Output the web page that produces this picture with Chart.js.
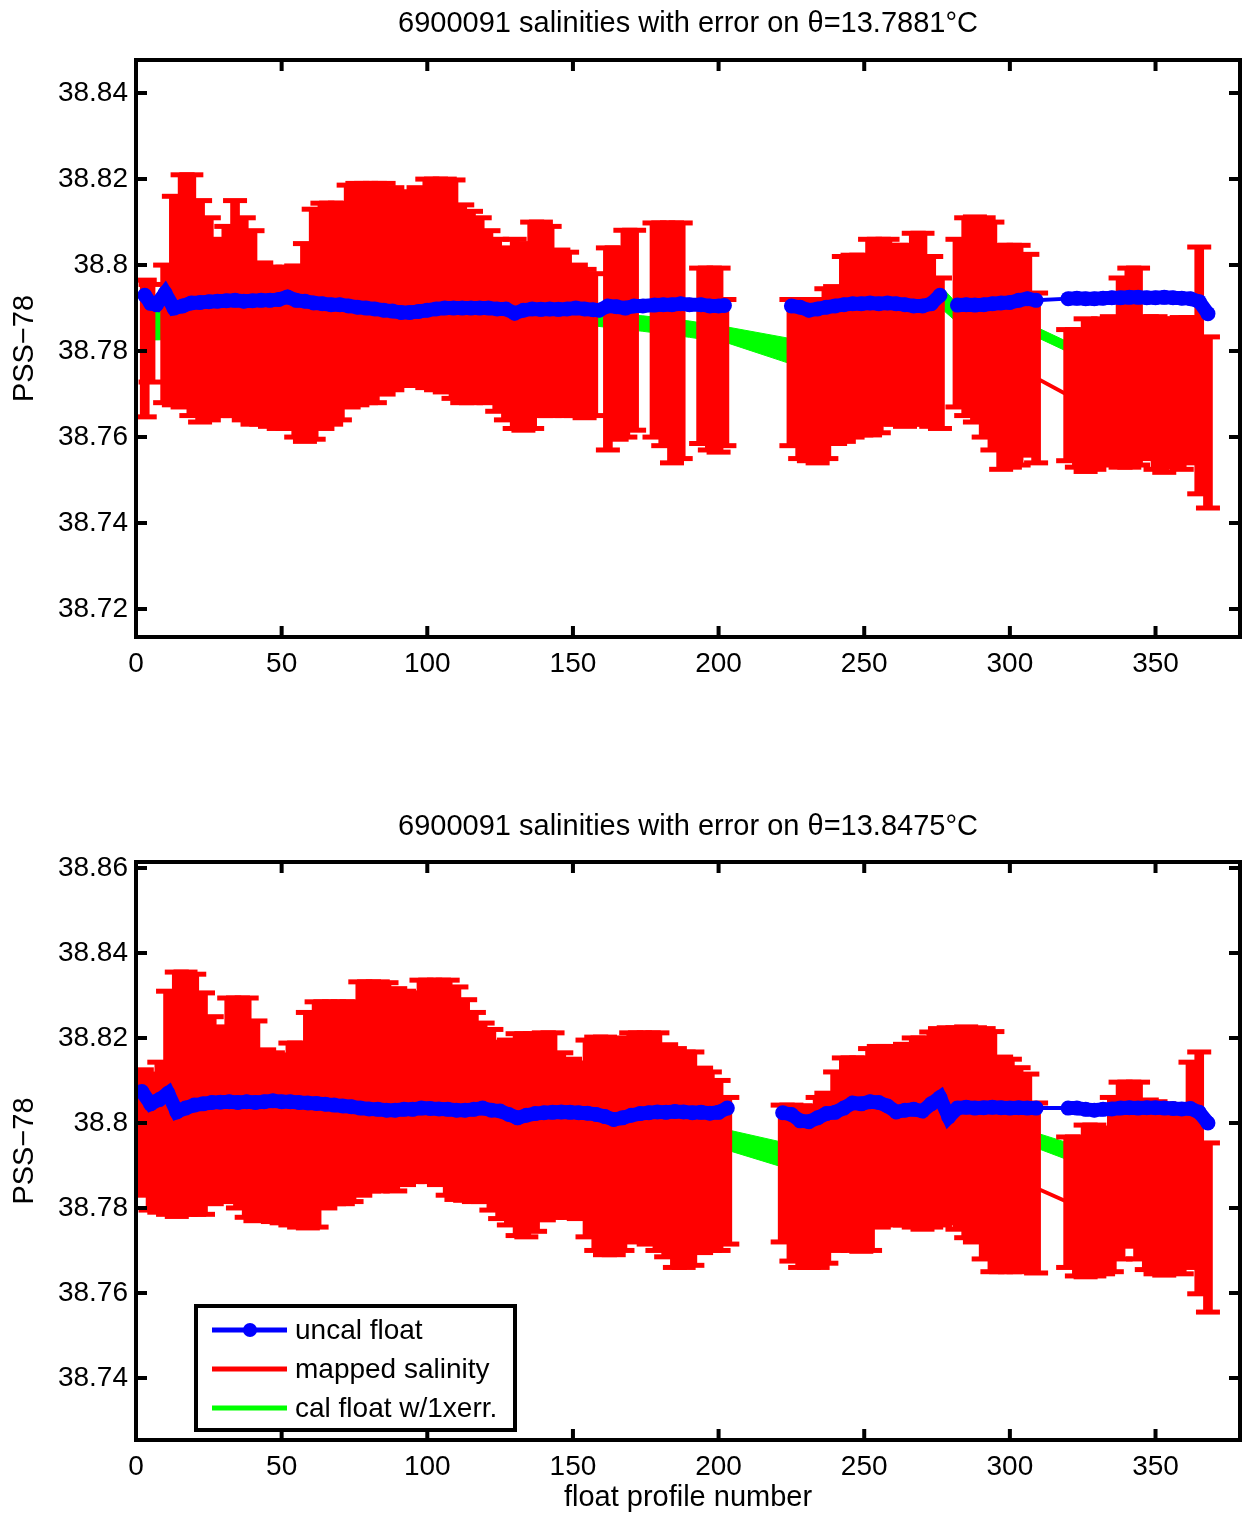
<!DOCTYPE html>
<html>
<head>
<meta charset="utf-8">
<script src="https://cdn.jsdelivr.net/npm/chart.js@4.4.1/dist/chart.umd.min.js"></script>
<style>
  html, body { margin: 0; padding: 0; background: #fff; }
  #top { position: absolute; left: 0; top: 0; }
  #bottom { position: absolute; left: 0; top: 700px; }
</style>
</head>
<body>
<canvas id="top" width="1244" height="700"></canvas>
<canvas id="bottom" width="1244" height="817"></canvas>
<script>
// axis ticks
const xTicks = [0, 50, 100, 150, 200, 250, 300, 350];
const p1YTicks = [38.72, 38.74, 38.76, 38.78, 38.8, 38.82, 38.84];
const p2YTicks = [38.74, 38.76, 38.78, 38.8, 38.82, 38.84, 38.86];

const legendLabels = ['uncal float', 'mapped salinity', 'cal float w/1xerr.'];

// panel 1 (theta = 13.7881)
const p1Prof = [3,5,7,
  10,13,16,19,22,25,28,31,34,37,40,43,46,49,52,55,58,61,64,67,70,73,76,79,82,85,88,91,94,97,
  100,103,106,109,112,115,118,121,124,127,130,133,136,139,142,145,148,151,154,157,
  159,162,165,168,171,174,178,181,184,187,190,194,197,200,202,213,
  225,228,231,234,237,240,243,246,249,252,255,258,261,264,267,270,273,276,280,
  282,285,288,291,294,297,300,303,306,309,
  320,323,326,329,332,335,338,341,344,347,350,353,356,359,362,365,368];
const p1Uncal = [38.7930,38.7911,38.7908,
  38.7935,38.7900,38.7905,38.7912,38.7913,38.7915,38.7916,38.7917,38.7918,38.7916,
  38.7917,38.7918,38.7918,38.7920,38.7926,38.7918,38.7916,38.7912,38.7910,38.7908,
  38.7908,38.7905,38.7902,38.7900,38.7898,38.7895,38.7893,38.7890,38.7890,38.7892,
  38.7895,38.7898,38.7900,38.7900,38.7900,38.7900,38.7900,38.7900,38.7898,38.7898,
  38.7888,38.7895,38.7898,38.7897,38.7898,38.7897,38.7898,38.7900,38.7898,38.7896,
  38.7895,38.7905,38.7903,38.7900,38.7905,38.7905,38.7907,38.7908,38.7908,38.7910,
  38.7908,38.7908,38.7905,38.7905,38.7906,null,
  38.7905,38.7902,38.7895,38.7898,38.7902,38.7905,38.7908,38.7910,38.7910,38.7912,
  38.7910,38.7912,38.7910,38.7908,38.7905,38.7905,38.7910,38.7930,null,
  38.7907,38.7908,38.7907,38.7908,38.7910,38.7912,38.7913,38.7918,38.7922,38.7918,
  38.7922,38.7923,38.7922,38.7922,38.7923,38.7924,38.7924,38.7925,38.7925,38.7924,
  38.7924,38.7925,38.7924,38.7923,38.7922,38.7915,38.7887];
const p1MapHi = [38.7965,38.7955,null,
  38.8000,38.8160,38.8210,38.8210,38.8150,38.8110,38.8060,38.8090,38.8150,38.8110,
  38.8080,38.8005,38.7995,38.7995,38.7995,38.7998,38.8050,38.8130,38.8144,38.8144,
  38.8144,38.8186,38.8190,38.8190,38.8190,38.8190,38.8180,38.8170,38.8170,38.8180,
  38.8200,38.8200,38.8200,38.8198,38.8140,38.8125,38.8110,38.8080,38.8060,38.8040,
  38.8060,38.8050,38.8100,38.8100,38.8090,38.8035,38.8030,38.8000,38.7990,38.7980,
  null,38.8040,38.8040,38.8081,38.8081,null,38.8098,38.8098,38.8098,38.8098,
  null,38.7993,38.7993,38.7993,38.7920,null,
  38.7920,38.7920,38.7920,38.7920,38.7945,38.7950,38.8020,38.8023,38.8023,38.8060,
  38.8060,38.8060,38.8046,38.8046,38.8074,38.8074,38.8020,38.7970,null,
  38.8060,38.8110,38.8112,38.8110,38.8100,38.8046,38.8046,38.8046,38.8025,38.7935,
  38.7850,38.7850,38.7875,38.7870,38.7875,38.7880,38.7970,38.7993,38.7993,38.7880,
  38.7880,38.7875,38.7875,38.7878,38.7878,38.8042,38.7833];
const p1MapLo = [38.7647,38.7728,null,
  38.7680,38.7675,38.7670,38.7650,38.7635,38.7640,38.7650,38.7650,38.7650,38.7640,
  38.7630,38.7630,38.7625,38.7620,38.7620,38.7600,38.7590,38.7595,38.7620,38.7630,
  38.7640,38.7670,38.7675,38.7680,38.7680,38.7700,38.7710,38.7720,38.7725,38.7720,
  38.7715,38.7710,38.7705,38.7690,38.7680,38.7680,38.7690,38.7680,38.7660,38.7640,
  38.7620,38.7616,38.7620,38.7650,38.7650,38.7660,38.7650,38.7650,38.7645,38.7650,
  null,38.7570,38.7595,38.7600,38.7616,null,38.7600,38.7580,38.7540,38.7550,
  null,38.7585,38.7570,38.7565,38.7580,null,
  38.7580,38.7550,38.7545,38.7540,38.7550,38.7585,38.7590,38.7600,38.7605,38.7605,
  38.7610,38.7630,38.7630,38.7625,38.7630,38.7630,38.7625,38.7620,null,
  38.7670,38.7650,38.7635,38.7600,38.7570,38.7525,38.7530,38.7535,38.7558,38.7540,
  38.7545,38.7530,38.7520,38.7525,38.7535,38.7540,38.7530,38.7530,38.7535,38.7550,
  38.7525,38.7518,38.7530,38.7525,38.7540,38.7468,38.7435];
const p1CalProf = [3, 7, 158, 174, 190, 203, 224, 276, 283, 309, 320, 368];
const p1CalHi = [38.7895,38.7895,38.7889,38.7882,38.7870,38.7856,38.7830,38.7953,38.7902,38.7856,38.7821,38.7800];
const p1CalLo = [38.7826,38.7826,38.7858,38.7846,38.7832,38.7819,38.7772,38.7902,38.7860,38.7833,38.7798,38.7775];

// panel 2 (theta = 13.8475)
const p2Prof = [2,5,8,11,14,17,20,23,26,29,32,35,38,41,44,47,50,53,56,59,
  62,65,68,71,74,77,80,83,86,89,92,95,98,101,104,107,110,113,116,119,
  122,125,128,131,134,137,140,143,146,149,152,155,158,161,164,167,170,173,176,179,
  182,185,188,191,194,197,200,203,213,
  222,225,228,231,234,237,240,243,246,249,252,255,258,261,264,267,270,273,276,279,
  282,285,288,291,294,297,300,303,306,309,
  320,323,326,329,332,335,338,341,344,347,350,353,356,359,362,365,368];
const p2Uncal = [38.8074,38.8045,38.8055,38.8070,38.8026,38.8035,38.8042,38.8045,38.8048,38.8049,
  38.8050,38.8048,38.8050,38.8048,38.8050,38.8052,38.8050,38.8050,38.8048,38.8047,
  38.8046,38.8044,38.8042,38.8040,38.8038,38.8035,38.8033,38.8032,38.8030,38.8030,
  38.8032,38.8032,38.8035,38.8034,38.8033,38.8032,38.8030,38.8030,38.8032,38.8035,
  38.8030,38.8028,38.8020,38.8012,38.8018,38.8022,38.8024,38.8025,38.8026,38.8025,
  38.8024,38.8023,38.8020,38.8015,38.8008,38.8012,38.8018,38.8022,38.8024,38.8026,
  38.8025,38.8027,38.8026,38.8024,38.8025,38.8023,38.8025,38.8035,null,
  38.8024,38.8020,38.8005,38.8003,38.8012,38.8022,38.8025,38.8035,38.8047,38.8045,
  38.8050,38.8048,38.8040,38.8026,38.8030,38.8032,38.8028,38.8045,38.8060,38.8014,
  38.8035,38.8037,38.8035,38.8036,38.8037,38.8036,38.8035,38.8036,38.8035,38.8035,
  38.8035,38.8035,38.8032,38.8030,38.8032,38.8033,38.8035,38.8036,38.8035,38.8036,
  38.8036,38.8035,38.8034,38.8033,38.8034,38.8025,38.8000];
const p2MapHi = [38.8125,38.8115,38.8143,38.8310,38.8355,38.8355,38.8350,38.8306,38.8250,38.8226,
  38.8294,38.8294,38.8294,38.8240,38.8172,38.8165,38.8160,38.8188,38.8188,38.8260,
  38.8285,38.8285,38.8285,38.8285,38.8285,38.8332,38.8332,38.8332,38.8330,38.8316,
  38.8310,38.8306,38.8336,38.8336,38.8336,38.8336,38.8320,38.8290,38.8260,38.8235,
  38.8220,38.8190,38.8195,38.8210,38.8210,38.8210,38.8212,38.8212,38.8165,38.8150,
  38.8141,38.8195,38.8202,38.8202,38.8195,38.8200,38.8212,38.8212,38.8212,38.8212,
  38.8184,38.8175,38.8167,38.8167,38.8129,38.8120,38.8100,38.8060,null,
  38.8042,38.8042,38.8040,38.8040,38.8060,38.8070,38.8120,38.8153,38.8153,38.8153,
  38.8175,38.8180,38.8180,38.8175,38.8185,38.8200,38.8200,38.8214,38.8222,38.8224,
  38.8224,38.8226,38.8224,38.8222,38.8215,38.8155,38.8150,38.8130,38.8115,38.8047,
  38.7967,38.7967,38.7995,38.7995,38.7988,38.8060,38.8096,38.8096,38.8096,38.8054,
  38.8050,38.8045,38.8030,38.8030,38.8143,38.8167,38.7953];
const p2MapLo = [38.7830,38.7795,38.7790,38.7785,38.7780,38.7785,38.7785,38.7785,38.7810,38.7820,
  38.7815,38.7800,38.7778,38.7770,38.7772,38.7768,38.7765,38.7760,38.7755,38.7753,
  38.7755,38.7800,38.7810,38.7810,38.7815,38.7830,38.7840,38.7840,38.7842,38.7840,
  38.7855,38.7862,38.7866,38.7862,38.7855,38.7830,38.7820,38.7818,38.7815,38.7815,
  38.7795,38.7775,38.7760,38.7735,38.7732,38.7745,38.7772,38.7778,38.7778,38.7778,
  38.7775,38.7732,38.7700,38.7690,38.7690,38.7700,38.7720,38.7725,38.7715,38.7700,
  38.7685,38.7660,38.7660,38.7665,38.7695,38.7700,38.7700,38.7715,null,
  38.7720,38.7675,38.7660,38.7660,38.7660,38.7670,38.7700,38.7705,38.7700,38.7698,
  38.7700,38.7755,38.7765,38.7760,38.7760,38.7755,38.7750,38.7755,38.7760,38.7765,
  38.7750,38.7730,38.7720,38.7680,38.7650,38.7650,38.7650,38.7650,38.7655,38.7647,
  38.7660,38.7640,38.7638,38.7640,38.7645,38.7650,38.7680,38.7710,38.7680,38.7655,
  38.7645,38.7642,38.7650,38.7645,38.7660,38.7598,38.7555];
const p2CalProf = [2, 203, 223, 278, 308, 320, 368];
const p2CalHi = [38.8035,38.7984,38.7953,38.8035,38.7979,38.7953,38.7950];
const p2CalLo = [38.7985,38.7936,38.7894,38.7985,38.7944,38.7913,38.7910];

const BLUE = '#0000ff', RED = '#ff0000', GREEN = '#00ff00';
const FONT = '"Liberation Sans", Arial, Helvetica, sans-serif';
Chart.defaults.font.family = FONT;
Chart.defaults.color = '#000';

function buildDatasets(prof, uncal, hi, lo, calProf, calHi, calLo) {
  const bars = [], caps = [];
  prof.forEach((p, i) => {
    if (hi[i] == null) return;
    bars.push({ x: p, y: [lo[i], hi[i]] });
    caps.push({ x: p, y: hi[i] }, { x: p, y: lo[i] });
  });
  const mid = prof.map((p, i) => ({ x: p, y: hi[i] == null ? null : (hi[i] + lo[i]) / 2 }));
  return [
    { type: 'line', label: 'cal hi', data: calProf.map((p, i) => ({ x: p, y: calHi[i] })),
      borderColor: GREEN, borderWidth: 1, pointRadius: 0, fill: false, order: 10 },
    { type: 'line', label: legendLabels[2], data: calProf.map((p, i) => ({ x: p, y: calLo[i] })),
      borderColor: GREEN, borderWidth: 1, pointRadius: 0, fill: '-1', backgroundColor: GREEN, order: 10 },
    { type: 'line', label: legendLabels[1], data: mid, borderColor: RED, borderWidth: 4,
      pointRadius: 0, spanGaps: false, order: 8 },
    { type: 'bar', label: 'error', data: bars, backgroundColor: RED, borderWidth: 0,
      barThickness: 9, grouped: false, order: 6 },
    { type: 'line', label: 'caps', data: caps, showLine: false, pointStyle: 'line',
      pointRadius: 12, pointBorderWidth: 5, pointBorderColor: RED, order: 4 },
    { type: 'line', label: legendLabels[0], data: prof.map((p, i) => ({ x: p, y: uncal[i] })),
      borderColor: BLUE, borderWidth: 4, pointRadius: 7.5, pointBackgroundColor: BLUE,
      pointBorderWidth: 0, spanGaps: false, order: 0,
      // dense runs of profiles read as a solid band, long jumps as a thin line
      segment: { borderWidth: c => (c.p1.parsed.x - c.p0.parsed.x > 6 ? 4 : 14) } }
  ];
}

// box with inward ticks, matlab style
const framePlugin = {
  id: 'frame',
  afterDatasetsDraw(chart) {
    const { ctx, chartArea: a, scales: { x, y } } = chart;
    ctx.save();
    ctx.strokeStyle = '#000';
    ctx.lineWidth = 4;
    ctx.beginPath();
    x.ticks.forEach(t => {
      const px = x.getPixelForValue(t.value);
      ctx.moveTo(px, a.bottom); ctx.lineTo(px, a.bottom - 11);
      ctx.moveTo(px, a.top); ctx.lineTo(px, a.top + 11);
    });
    y.ticks.forEach(t => {
      const py = y.getPixelForValue(t.value);
      ctx.moveTo(a.left, py); ctx.lineTo(a.left + 11, py);
      ctx.moveTo(a.right, py); ctx.lineTo(a.right - 11, py);
    });
    ctx.stroke();
    ctx.strokeRect(a.left, a.top, a.right - a.left, a.bottom - a.top);
    ctx.restore();
  }
};

const legendPlugin = {
  id: 'boxLegend',
  afterDraw(chart, args, opts) {
    if (!opts.show) return;
    const { ctx, chartArea: a } = chart;
    const x0 = a.left + 60, y0 = a.bottom - 134, w = 319, h = 124;
    const colors = [BLUE, RED, GREEN];
    ctx.save();
    ctx.fillStyle = '#fff';
    ctx.fillRect(x0, y0, w, h);
    ctx.lineWidth = 4;
    ctx.strokeStyle = '#000';
    ctx.strokeRect(x0, y0, w, h);
    ctx.font = '28px ' + FONT;
    ctx.textBaseline = 'middle';
    legendLabels.forEach((label, i) => {
      const y = y0 + 24 + i * 39;
      ctx.strokeStyle = colors[i];
      ctx.lineWidth = 5;
      ctx.beginPath();
      ctx.moveTo(x0 + 16, y);
      ctx.lineTo(x0 + 91, y);
      ctx.stroke();
      if (i === 0) {
        ctx.fillStyle = colors[i];
        ctx.beginPath();
        ctx.arc(x0 + 54, y, 7, 0, Math.PI * 2);
        ctx.fill();
      }
      ctx.fillStyle = '#000';
      ctx.fillText(label, x0 + 99, y + 1);
    });
    ctx.restore();
  }
};

function makePanel(id, cfg) {
  return new Chart(document.getElementById(id), {
    type: 'bar',
    data: { datasets: buildDatasets(cfg.prof, cfg.uncal, cfg.hi, cfg.lo, cfg.calProf, cfg.calHi, cfg.calLo) },
    options: {
      responsive: false,
      animation: false,
      devicePixelRatio: 1,
      layout: { autoPadding: false, padding: { top: cfg.padTop, right: 4, left: 0, bottom: 0 } },
      plugins: {
        legend: { display: false },
        tooltip: { enabled: false },
        title: { display: true, fullSize: false, text: cfg.title, color: '#000',
                 font: { size: 29, weight: 'normal' }, padding: cfg.titlePad },
        boxLegend: { show: cfg.legend }
      },
      scales: {
        x: {
          type: 'linear', min: 0, max: 379, offset: false,
          grid: { display: false, drawTicks: false, offset: false },
          border: { display: false },
          ticks: { font: { size: 28 }, color: '#000', padding: 10, maxRotation: 0, autoSkip: false,
                   callback: v => String(v) },
          afterBuildTicks: s => { s.ticks = xTicks.map(v => ({ value: v })); },
          afterFit: s => { s.height = cfg.xHeight; },
          title: { display: cfg.xTitle, text: 'float profile number', color: '#000',
                   font: { size: 29 }, padding: { top: 0, bottom: 2 } }
        },
        y: {
          type: 'linear', min: cfg.yMin, max: cfg.yMax,
          grid: { display: false, drawTicks: false },
          border: { display: false },
          ticks: { font: { size: 28 }, color: '#000', padding: 8,
                   callback: v => String(Number(v.toFixed(2))) },
          afterBuildTicks: s => { s.ticks = cfg.yTicks.map(v => ({ value: v })); },
          afterFit: s => { s.width = 136; },
          title: { display: true, text: 'PSS\u221278', color: '#000',
                   font: { size: 29 }, padding: { top: 7.6, bottom: 0 } }
        }
      }
    },
    plugins: [framePlugin, legendPlugin]
  });
}

makePanel('top', {
  prof: p1Prof, uncal: p1Uncal, hi: p1MapHi, lo: p1MapLo,
  calProf: p1CalProf, calHi: p1CalHi, calLo: p1CalLo,
  title: '6900091 salinities with error on \u03B8=13.7881\u00B0C',
  padTop: 0, titlePad: { top: 7, bottom: 18.2 },
  yMin: 38.7135, yMax: 38.8477, yTicks: p1YTicks,
  xHeight: 63, xTitle: false, legend: false
});

makePanel('bottom', {
  prof: p2Prof, uncal: p2Uncal, hi: p2MapHi, lo: p2MapLo,
  calProf: p2CalProf, calHi: p2CalHi, calLo: p2CalLo,
  title: '6900091 salinities with error on \u03B8=13.8475\u00B0C',
  padTop: 100, titlePad: { top: 9.6, bottom: 17.6 },
  yMin: 38.7254, yMax: 38.8614, yTicks: p2YTicks,
  xHeight: 77, xTitle: true, legend: true
});
</script>
</body>
</html>
